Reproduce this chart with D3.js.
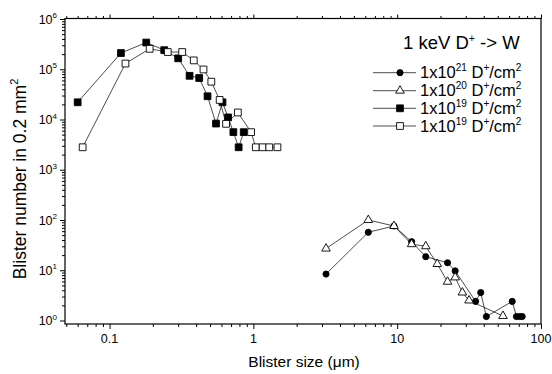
<!DOCTYPE html>
<html><head><meta charset="utf-8">
<script src="https://cdn.jsdelivr.net/npm/d3@7"></script>
<style>body{margin:0;background:#fff}svg{display:block}text{font-family:"Liberation Sans",Arial,sans-serif;fill:#000}</style>
</head><body><svg id="c" width="552" height="374"></svg>
<script>
// ---- data ----
const circX = [3.2,6.3,9.5,12.6,15.8,22.4,25.3,35.1,38.1,41.7,63.1,67.5,71,74];
const circY = [8.4,57,76,37,18.6,14.1,9.7,2.4,3.6,1.2,2.4,1.2,1.2,1.2];
const triX = [3.2,6.3,9.5,12.6,15.8,19,22.4,25.3,28.4,31.6,54.4];
const triY = [27,100,76,33,30,13.3,5.9,7.2,3.6,2.5,1.23];
const fsqX = [0.060,0.12,0.18,0.24,0.30,0.36,0.42,0.48,0.55,0.61,0.667,0.726,0.79,0.857];
const fsqY = [2.2e4,2.1e5,3.4e5,2.4e5,1.65e5,7.4e4,6.7e4,2.9e4,8.3e3,2.2e4,1.1e4,5.6e3,2.8e3,5.6e3];
const osqX = [0.065,0.129,0.19,0.254,0.32,0.385,0.45,0.51,0.583,0.646,0.78,0.964,1.04,1.16,1.29,1.47];
const osqY = [2.8e3,1.3e5,2.55e5,2.2e5,2.2e5,1.5e5,9.9e4,5.65e4,2.45e4,8.2e3,1.38e4,5.6e3,2.8e3,2.8e3,2.8e3,2.8e3];
const xTickLabels = ["0.1","1","10","100"];
const xTickVals = [0.1,1,10,100];
const yTickExps = [0,1,2,3,4,5,6];
const legendExps = ["21","20","19","19"];
const legendTitle = "1 keV D";
const xTitle = "Blister size (\u03bcm)";
const yTitle = "Blister number in 0.2 mm";

// ---- layout ----
const L=65,R=541,T=18.5,B=324;
const svg=d3.select("#c");
const x=d3.scaleLog().domain([0.049,100]).range([L,R]);
const y=d3.scaleLog().domain([1,1e6]).range([320.5,19]);

// frame
svg.append("rect").attr("x",L).attr("y",T).attr("width",R-L).attr("height",B-T)
  .attr("fill","none").attr("stroke","#000").attr("stroke-width",1.2);

const xt=x.ticks().filter(v=>v>=0.05&&v<=100);
const isMaj=v=>Math.abs(Math.log10(v)-Math.round(Math.log10(v)))<1e-9;
const xMaj=xt.filter(isMaj), xMin=xt.filter(v=>!isMaj(v));
const yt=y.ticks();
const yMaj=yt.filter(isMaj), yMin=yt.filter(v=>!isMaj(v));

function styleAxis(g){g.select(".domain").remove();g.selectAll("line").attr("stroke","#000").attr("stroke-width",1);g.selectAll("text").remove();}
svg.append("g").attr("transform",`translate(0,${B})`).call(d3.axisBottom(x).tickValues(xMaj).tickSize(5)).call(styleAxis);
svg.append("g").attr("transform",`translate(0,${B})`).call(d3.axisBottom(x).tickValues(xMin).tickSize(3)).call(styleAxis);
svg.append("g").attr("transform",`translate(0,${T})`).call(d3.axisTop(x).tickValues(xMaj).tickSize(4)).call(styleAxis);
svg.append("g").attr("transform",`translate(0,${T})`).call(d3.axisTop(x).tickValues(xMin).tickSize(2.5)).call(styleAxis);
svg.append("g").attr("transform",`translate(${L},0)`).call(d3.axisLeft(y).tickValues(yMaj).tickSize(5)).call(styleAxis);
svg.append("g").attr("transform",`translate(${L},0)`).call(d3.axisLeft(y).tickValues(yMin).tickSize(3)).call(styleAxis);

// x tick labels
xTickVals.forEach((v,i)=>{
  svg.append("text").attr("x",x(v)).attr("y",B+19).attr("text-anchor","middle").attr("font-size",12.5).text(xTickLabels[i]);
});
// y tick labels
yTickExps.forEach(e=>{
  const t=svg.append("text").attr("x",57).attr("y",y(Math.pow(10,e))+4.5).attr("text-anchor","end").attr("font-size",12.5);
  t.append("tspan").text("10");
  t.append("tspan").attr("font-size",8).attr("dy",-5.5).text(e);
});
// titles
svg.append("text").attr("x",304).attr("y",367).attr("text-anchor","middle").attr("font-size",15.5).text(xTitle);
const yt2=svg.append("text").attr("transform","translate(26,179) rotate(-90)").attr("text-anchor","middle").attr("font-size",17.5);
yt2.append("tspan").text(yTitle);
yt2.append("tspan").attr("font-size",11).attr("dy",-8).text("2");

// series
const line=d3.line().x(d=>x(d[0])).y(d=>y(d[1]));
const series=[
  {xs:circX,ys:circY,shape:"circle",fill:"#000"},
  {xs:triX,ys:triY,shape:"tri",fill:"#fff"},
  {xs:fsqX,ys:fsqY,shape:"sq",fill:"#000"},
  {xs:osqX,ys:osqY,shape:"sq",fill:"#fff"}
];
const sym={circle:d3.symbol(d3.symbolCircle,30),tri:d3.symbol(d3.symbolTriangle,32),sq:d3.symbol(d3.symbolSquare,46)};
series.forEach(s=>{
  const pts=s.xs.map((v,i)=>[v,s.ys[i]]);
  svg.append("path").attr("d",line(pts)).attr("fill","none").attr("stroke","#000").attr("stroke-width",0.7);
});
series.forEach(s=>{
  const pts=s.xs.map((v,i)=>[v,s.ys[i]]);
  svg.append("g").selectAll("path").data(pts).join("path")
    .attr("transform",d=>`translate(${x(d[0])},${y(d[1])})`)
    .attr("d",sym[s.shape]()).attr("fill",s.fill).attr("stroke","#000").attr("stroke-width",0.9);
});

// legend
const lt=svg.append("text").attr("x",403).attr("y",49).attr("font-size",18.5);
lt.append("tspan").text(legendTitle);
lt.append("tspan").attr("font-size",10.5).attr("dy",-7.5).text("+");
lt.append("tspan").attr("dy",7.5).text(" -> W");
const legY=[72.7,90.7,108.3,126];
series.forEach((s,i)=>{
  const yy=legY[i];
  svg.append("line").attr("x1",373).attr("x2",416).attr("y1",yy).attr("y2",yy).attr("stroke","#000").attr("stroke-width",0.7);
  svg.append("path").attr("transform",`translate(400,${yy})`).attr("d",sym[s.shape]()).attr("fill",s.fill).attr("stroke","#000").attr("stroke-width",0.9);
  const t=svg.append("text").attr("x",420).attr("y",yy+5.5).attr("font-size",16.5);
  t.append("tspan").text("1x10");
  t.append("tspan").attr("font-size",10).attr("dy",-7).text(legendExps[i]);
  t.append("tspan").attr("dy",7).text(" D");
  t.append("tspan").attr("font-size",10).attr("dy",-7).text("+");
  t.append("tspan").attr("dy",7).text("/cm");
  t.append("tspan").attr("font-size",10).attr("dy",-7).text("2");
});
</script></body></html>
